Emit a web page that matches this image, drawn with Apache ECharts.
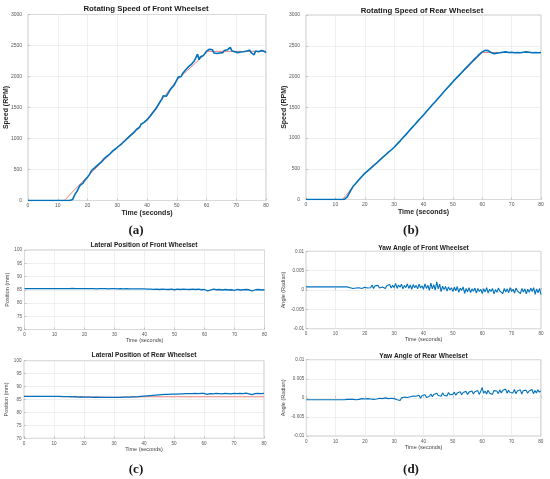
<!DOCTYPE html>
<html>
<head>
<meta charset="utf-8">
<script src="https://cdn.jsdelivr.net/npm/echarts@6/dist/echarts.min.js"></script>
<style>
  html, body { margin: 0; padding: 0; background: #fff; }
  #main { width: 550px; height: 479px; }
</style>
</head>
<body>
<div id="main"></div>
<script>
// sampling steps (seconds) of the recorded series
const stepFine = 0.5
const stepCoarse = 1

// tick labels
const timeTicks = [0, 10, 20, 30, 40, 50, 60, 70, 80]
const speedTicks = [0, 500, 1000, 1500, 2000, 2500, 3000]
const posTicks = [70, 75, 80, 85, 90, 95, 100]
const yawTicks = [-0.01, -0.005, 0, 0.005, 0.01]

// (a) front wheelset speed, RPM, every 0.5 s
const frontSpeed = [
  0, 0, 0, 0, 0, 0, 0, 0, 0, 0,
  0, 0, 0, 0, 0, 0, 0, 0, 0, 0,
  0, 0, 0, 0, 0, 0, 0, 0, 0, 0,
  15, 70, 115, 150, 200, 245, 240, 280, 320, 345,
  375, 410, 450, 490, 515, 530, 555, 575, 600, 615,
  640, 670, 700, 710, 735, 750, 780, 800, 815, 835,
  850, 875, 895, 915, 940, 960, 985, 1005, 1030, 1050,
  1075, 1090, 1120, 1145, 1165, 1180, 1230, 1215, 1260, 1275,
  1300, 1330, 1355, 1385, 1420, 1450, 1480, 1510, 1560, 1585,
  1640, 1690, 1700, 1680, 1720, 1745, 1800, 1820, 1850, 1880,
  1940, 1990, 1960, 2000, 2050, 2080, 2110, 2130, 2160, 2190,
  2200, 2230, 2260, 2280, 2360, 2270, 2320, 2300, 2340, 2370,
  2410, 2420, 2440, 2455, 2430, 2380, 2410, 2370, 2400, 2380,
  2410, 2385, 2420, 2395, 2430, 2405, 2470, 2415, 2445, 2400,
  2425, 2385, 2410, 2395, 2420, 2400, 2385, 2410, 2395, 2425,
  2385, 2405, 2350, 2410, 2385, 2400, 2375, 2420, 2440, 2405,
  2385
]
// (a) reference speed
const frontRefT = [0, 12.2, 20, 30, 40, 50, 60.5, 80]
const frontRefV = [0, 0, 390, 860, 1310, 1940, 2405, 2405]

// (b) rear wheelset speed, RPM, every 1 s
const rearSpeed = [
  0, 0, 0, 0, 0, 0, 0, 0, 0, 0,
  0, 0, 0, 0, 40, 130, 210, 265, 320, 375,
  425, 465, 505, 550, 590, 635, 680, 720, 765, 805,
  850, 900, 950, 1005, 1055, 1110, 1165, 1215, 1270, 1320,
  1375, 1430, 1485, 1540, 1590, 1645, 1700, 1755, 1810, 1860,
  1915, 1965, 2015, 2065, 2115, 2165, 2215, 2265, 2310, 2360,
  2400, 2425, 2420, 2390, 2370, 2380, 2385, 2395, 2400, 2390,
  2395, 2385, 2390, 2385, 2395, 2400, 2395, 2385, 2390, 2385,
  2390
]
const rearRefT = [0, 12.5, 17, 20, 30, 40, 50, 60, 80]
const rearRefV = [0, 0, 270, 430, 850, 1375, 1915, 2390, 2390]

// (c) lateral position, mm, every 1 s
const latFront = [
  85.4, 85.4, 85.4, 85.4, 85.4, 85.4, 85.4, 85.4, 85.4, 85.4,
  85.4, 85.4, 85.4, 85.4, 85.4, 85.4,
  85.5, 85.45, 85.4, 85.45, 85.4,
  85.4, 85.45, 85.4, 85.35, 85.4,
  85.4, 85.4, 85.35, 85.4, 85.4,
  85.35, 85.4, 85.35, 85.4, 85.35,
  85.35, 85.3, 85.35, 85.3, 85.3,
  85.25, 85.2, 85.15, 85.2, 85.1,
  85.2, 85.15, 85.1, 85.2, 85.0,
  85.2, 85.1, 85.2, 85.15, 85.1,
  85.2, 85.1, 85.2, 85.0, 85.1,
  84.6, 84.9, 85.2, 85.0, 85.1,
  84.9, 85.1, 84.9, 85.0, 84.8,
  85.1, 84.9, 85.0, 85.1, 84.9,
  84.6, 85.0, 85.1, 84.9, 85.0
]
const latRear = [
  86.2, 86.2, 86.2, 86.2, 86.2, 86.2, 86.2, 86.2, 86.2, 86.2,
  86.2, 86.2, 86.2, 86.15, 86.1, 86.1,
  86.0, 86.1, 85.9, 86.0, 85.9,
  85.9, 85.9, 85.85, 85.9, 85.85,
  85.85, 85.8, 85.85, 85.8, 85.8,
  85.85, 85.8, 85.9, 85.9, 85.95,
  86.0, 86.05, 86.1, 86.2, 86.3,
  86.4, 86.5, 86.6, 86.7, 86.8,
  86.9, 86.95, 87.0, 87.05, 87.1,
  87.1, 87.15, 87.2, 87.25, 87.3,
  87.3, 87.35, 87.3, 87.35, 87.4,
  87.0, 87.3, 87.2, 87.4, 87.3,
  87.2, 87.4, 87.3, 87.2, 87.4,
  87.3, 87.4, 87.3, 87.5, 87.2,
  86.9, 87.3, 87.4, 87.3, 87.4
]
const latRearRefT = [0, 15, 30, 40, 44, 80]
const latRearRefV = [86.2, 86.1, 85.85, 86.05, 86.05, 86.05]

// (d) yaw angle, radian, every 0.5 s
const yawFront = [
  0.0008, 0.0008, 0.0008, 0.0008, 0.0008, 0.0008, 0.0008, 0.0008, 0.0008, 0.0008,
  0.0008, 0.0008, 0.0008, 0.0008, 0.0008, 0.0008, 0.0008, 0.0008, 0.0008, 0.0008,
  0.0008, 0.0008, 0.0008, 0.0008, 0.0008, 0.0008, 0.0008, 0.0008, 0.0008, 0.0008,
  0.0006, 0.0003, 0.0004, 0.0009, 0.0005, 0.0010, 0.0006, 0.0011, 0.0004, 0.0009,
  0.0007, 0.0012, 0.0005, 0.0010, 0.0006, 0.0013, 0.0004, 0.0011, 0.0007, 0.0012,
  0.0005, 0.0010, 0.0008, 0.0013, 0.0004, 0.0011, 0.0006, 0.0014, 0.0005, 0.0012,
  0.0006, 0.0017, 0.0004, 0.0013, 0.0007, 0.0015, 0.0003, 0.0012, 0.0006, 0.0016,
  0.0004, 0.0013, 0.0002, 0.0014, 0.0006, 0.0012, 0.0003, 0.0015, 0.0005, 0.0011,
  0.0002, 0.0016, 0.0004, 0.0012, -0.0001, 0.0018, 0.0003, 0.0014, 0.0000, 0.0021,
  0.0003, 0.0015, -0.0004, 0.0010, 0.0001, 0.0009, -0.0003, 0.0008, 0.0000, 0.0006,
  -0.0004, 0.0007, -0.0002, 0.0009, -0.0006, 0.0005, -0.0001, 0.0008, -0.0009, 0.0004,
  -0.0005, 0.0006, -0.0007, 0.0003, -0.0003, 0.0005, -0.0008, 0.0004, -0.0004, 0.0002,
  -0.0009, 0.0003, -0.0005, 0.0006, -0.0008, 0.0002, -0.0004, 0.0004, -0.0010, 0.0001,
  -0.0006, 0.0005, -0.0003, 0.0002, -0.0009, 0.0004, -0.0005, 0.0003, -0.0007, 0.0006,
  -0.0004, 0.0002, -0.0008, 0.0005, -0.0003, 0.0001, -0.0009, 0.0004, -0.0005, 0.0003,
  -0.0010, 0.0002, -0.0006, 0.0005, -0.0004, 0.0006, -0.0011, 0.0003, -0.0007, 0.0004,
  -0.0012
]
const yawRear = [
  -0.0005, -0.0005, -0.0005, -0.0005, -0.0005, -0.0005, -0.0005, -0.0005, -0.0005, -0.0005,
  -0.0005, -0.0005, -0.0005, -0.0005, -0.0005, -0.0005, -0.0005, -0.0005, -0.0005, -0.0005,
  -0.0005, -0.0005, -0.0005, -0.0005, -0.0005, -0.0005, -0.0005, -0.0005, -0.0004, -0.0003,
  -0.0004, -0.0002, -0.0004, -0.0003, -0.0005, -0.0002, -0.0004, -0.0003, -0.0002, -0.0004,
  -0.0003, -0.0005, -0.0002, -0.0004, -0.0003, -0.0001, -0.0004, -0.0002, -0.0003, -0.0004,
  -0.0001, -0.0006, -0.0002, -0.0004, 0.0000, -0.0005, -0.0002, -0.0003, -0.0001, -0.0006,
  -0.0002, 0.0001, -0.0005, -0.0001, -0.0007, 0.0000, -0.0003, 0.0002, -0.0002, 0.0001,
  -0.0003, 0.0003, -0.0001, 0.0005, 0.0000, 0.0004, 0.0002, 0.0007, -0.0001, 0.0006,
  0.0002, 0.0008, 0.0001, 0.0006, 0.0004, 0.0010, 0.0003, 0.0009, 0.0005, 0.0012,
  0.0006, 0.0011, 0.0004, 0.0013, 0.0007, 0.0010, 0.0005, 0.0014, 0.0008, 0.0011,
  0.0009, 0.0015, 0.0007, 0.0013, 0.0010, 0.0016, 0.0008, 0.0014, 0.0011, 0.0017,
  0.0009, 0.0015, 0.0012, 0.0018, 0.0010, 0.0016, 0.0013, 0.0019, 0.0009, 0.0017,
  0.0027, 0.0012, 0.0018, 0.0010, 0.0020, 0.0013, 0.0017, 0.0009, 0.0019, 0.0014,
  0.0018, 0.0011, 0.0021, 0.0013, 0.0019, 0.0015, 0.0023, 0.0012, 0.0020, 0.0014,
  0.0019, 0.0013, 0.0022, 0.0011, 0.0018, 0.0014, 0.0021, 0.0010, 0.0019, 0.0015,
  0.0020, 0.0012, 0.0018, 0.0014, 0.0022, 0.0011, 0.0019, 0.0013, 0.0021, 0.0015,
  0.0018
]

const blue = '#0072bd'
const red = '#e8736c'
const sans = 'Liberation Sans, Arial, sans-serif'

function sampled(values, dt) {
  return values.map((v, i) => [i * dt, v])
}
function zip(ts, vs) {
  return ts.map((t, i) => [t, vs[i]])
}
// plain numbers, no thousands separator (like matlab)
function plain(v) {
  return String(Math.round(v * 100000) / 100000)
}

const grids = [
  { left: 28, top: 14.5, width: 238, height: 186 },
  { left: 306, top: 15, width: 235, height: 184.5 },
  { left: 24.5, top: 250, width: 240, height: 79.5 },
  { left: 24, top: 360.7, width: 240, height: 77.6 },
  { left: 306, top: 251.3, width: 235, height: 77.4 },
  { left: 306.3, top: 359.7, width: 234.5, height: 76.3 }
].map(g => Object.assign(g, {
  show: true, borderColor: '#a8a8a8', borderWidth: 0.6, outerBoundsMode: 'none'
}))

function xAxis(gi, big) {
  return {
    type: 'value', gridIndex: gi,
    min: timeTicks[0], max: timeTicks[timeTicks.length - 1],
    interval: timeTicks[1] - timeTicks[0],
    axisLine: { show: false },
    axisTick: { show: true, inside: true, length: 2, lineStyle: { color: '#999', width: 0.5 } },
    axisLabel: { fontSize: big ? 5 : 4.6, color: '#555', margin: 3, fontFamily: sans, formatter: plain },
    splitLine: { lineStyle: { color: '#e4e4e4', width: 0.6 } },
    name: 'Time (seconds)', nameLocation: 'middle', nameGap: big ? 9 : 8, nameMoveOverlap: false,
    nameTextStyle: { fontSize: big ? 7 : 5.5, fontWeight: big ? 'bold' : 'normal', color: big ? '#262626' : '#444', fontFamily: sans }
  }
}
function yAxis(gi, ticks, name, gap, big, margin) {
  return {
    type: 'value', gridIndex: gi,
    min: ticks[0], max: ticks[ticks.length - 1], interval: ticks[1] - ticks[0],
    axisLine: { show: false },
    axisTick: { show: true, inside: true, length: 2, lineStyle: { color: '#999', width: 0.5 } },
    axisLabel: { fontSize: big ? 5 : 4.6, color: '#555', margin: margin, fontFamily: sans, formatter: plain },
    splitLine: { lineStyle: { color: '#e4e4e4', width: 0.6 } },
    name: name, nameLocation: 'middle', nameGap: gap, nameMoveOverlap: false,
    nameTextStyle: { fontSize: big ? 7 : 5.5, fontWeight: big ? 'bold' : 'normal', color: big ? '#262626' : '#444', fontFamily: sans }
  }
}
function line(gi, data, color, width) {
  return {
    type: 'line', xAxisIndex: gi, yAxisIndex: gi, data: data,
    showSymbol: false, symbol: 'none', silent: true,
    lineStyle: { color: color, width: width }
  }
}
function label(x, y, text, font) {
  return { type: 'text', x: x, y: y, style: { text: text, font: font, fill: '#1a1a1a', textAlign: 'center', textVerticalAlign: 'middle' } }
}

const chart = echarts.init(document.getElementById('main'))
chart.setOption({
  backgroundColor: '#fff',
  animation: false,
  grid: grids,
  xAxis: [xAxis(0, true), xAxis(1, true), xAxis(2, false), xAxis(3, false), xAxis(4, false), xAxis(5, false)],
  yAxis: [
    yAxis(0, speedTicks, 'Speed (RPM)', 18, true, 6),
    yAxis(1, speedTicks, 'Speed (RPM)', 18, true, 6),
    yAxis(2, posTicks, 'Position (mm)', 14.5, false, 2.5),
    yAxis(3, posTicks, 'Position (mm)', 14.5, false, 2.5),
    yAxis(4, yawTicks, 'Angle (Radian)', 19.5, false, 2),
    yAxis(5, yawTicks, 'Angle (Radian)', 19.5, false, 2)
  ],
  series: [
    line(0, zip(frontRefT, frontRefV), red, 0.9),
    line(0, sampled(frontSpeed, stepFine), blue, 1.6),
    line(1, zip(rearRefT, rearRefV), red, 0.9),
    line(1, sampled(rearSpeed, stepCoarse), blue, 1.6),
    line(2, sampled(latFront, stepCoarse), blue, 1.3),
    line(3, zip(latRearRefT, latRearRefV), red, 0.9),
    line(3, sampled(latRear, stepCoarse), blue, 1.3),
    line(4, sampled(yawFront, stepFine), blue, 1.1),
    line(5, sampled(yawRear, stepFine), blue, 1.1)
  ],
  graphic: [
    label(146, 9, 'Rotating Speed of Front Wheelset', 'bold 7.8px ' + sans),
    label(422, 11, 'Rotating Speed of Rear Wheelset', 'bold 7.8px ' + sans),
    label(144, 245.5, 'Lateral Position of Front Wheelset', 'bold 6.6px ' + sans),
    label(144, 355.5, 'Lateral Position of Rear Wheelset', 'bold 6.6px ' + sans),
    label(423.5, 248, 'Yaw Angle of Front Wheelset', 'bold 6.6px ' + sans),
    label(423.5, 356, 'Yaw Angle of Rear Wheelset', 'bold 6.6px ' + sans),
    label(136, 231, '(a)', 'bold 13px Liberation Serif, serif'),
    label(411, 231, '(b)', 'bold 13px Liberation Serif, serif'),
    label(136, 470, '(c)', 'bold 13px Liberation Serif, serif'),
    label(411, 470, '(d)', 'bold 13px Liberation Serif, serif')
  ]
})
</script>
</body>
</html>
